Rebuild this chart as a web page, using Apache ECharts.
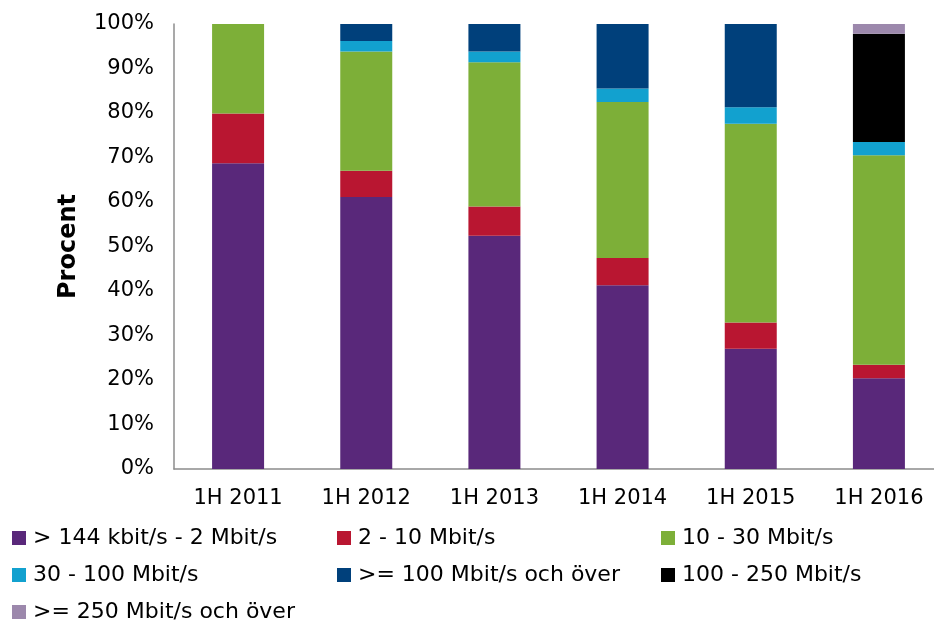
<!DOCTYPE html>
<html>
<head>
<meta charset="utf-8">
<script src="https://cdn.jsdelivr.net/npm/echarts@6/dist/echarts.min.js"></script>
<style>
  html, body { margin: 0; padding: 0; background: #fff; overflow: hidden; }
  #chart { width: 943px; height: 623px; }
</style>
</head>
<body>
<div id="chart"></div>
<script>
var categories = ["1H 2011", "1H 2012", "1H 2013", "1H 2014", "1H 2015", "1H 2016"];
var yTicks = [0, 10, 20, 30, 40, 50, 60, 70, 80, 90, 100];

var names = [
  "> 144 kbit/s - 2 Mbit/s",
  "2 - 10 Mbit/s",
  "10 - 30 Mbit/s",
  "30 - 100 Mbit/s",
  ">= 100 Mbit/s och över",
  "100 - 250 Mbit/s",
  ">= 250 Mbit/s och över"
];
var colors = ["#59287a", "#b91631", "#7daf38", "#12a1cf", "#00407b", "#000000", "#9c88ac"];

// procent per kategori
var s144k_2M = [68.7, 61.1, 52.4, 41.3, 27.0, 20.4];
var s2_10 = [11.2, 5.9, 6.6, 6.1, 5.9, 3.0];
var s10_30 = [20.1, 26.8, 32.4, 35.1, 44.7, 47.1];
var s30_100 = [0, 2.4, 2.4, 3.0, 3.7, 3.0];
var s100over = [0, 3.8, 6.2, 14.5, 18.7, 0];
var s100_250 = [0, 0, 0, 0, 0, 24.3];
var s250over = [0, 0, 0, 0, 0, 2.2];

var values = [s144k_2M, s2_10, s10_30, s30_100, s100over, s100_250, s250over];

var font = "DejaVu Sans";
var myChart = echarts.init(document.getElementById("chart"));

var series = names.map(function (n, i) {
  return {
    name: n,
    type: "bar",
    stack: "total",
    barWidth: 52,
    itemStyle: { color: colors[i] },
    data: values[i]
  };
});

function legendCol(left, items) {
  return {
    orient: "vertical",
    left: left,
    top: 527,
    padding: 0,
    itemGap: 15,
    itemWidth: 14,
    itemHeight: 14,
    icon: "rect",
    selectedMode: false,
    textStyle: { fontFamily: font, fontSize: 22, color: "#000", padding: [0, 0, 0, 2] },
    data: items
  };
}

var option = {
  animation: false,
  color: colors,
  grid: { left: 174, top: 24, bottom: 154, right: 0 },
  legend: [
    legendCol(12, [names[0], names[3], names[6]]),
    legendCol(337, [names[1], names[4]]),
    legendCol(661, [names[2], names[5]])
  ],
  xAxis: {
    type: "category",
    data: categories,
    axisLine: { lineStyle: { color: "#8c8c8c", width: 1.5 } },
    axisTick: { inside: true, length: 6, lineStyle: { color: "#8c8c8c" } },
    axisLabel: { fontFamily: font, fontSize: 21, color: "#000", margin: 19 }
  },
  yAxis: {
    type: "value",
    min: yTicks[0],
    max: yTicks[yTicks.length - 1],
    interval: 10,
    name: "Procent",
    nameLocation: "middle",
    nameGap: 93,
    nameTextStyle: { fontFamily: font, fontSize: 24, fontWeight: "bold", color: "#000" },
    axisLine: { show: true, lineStyle: { color: "#8c8c8c", width: 1.5 } },
    axisTick: { show: false },
    splitLine: { show: false },
    axisLabel: { fontFamily: font, fontSize: 21, color: "#000", margin: 20, formatter: "{value}%" }
  },
  series: series
};

myChart.setOption(option);
</script>
</body>
</html>
